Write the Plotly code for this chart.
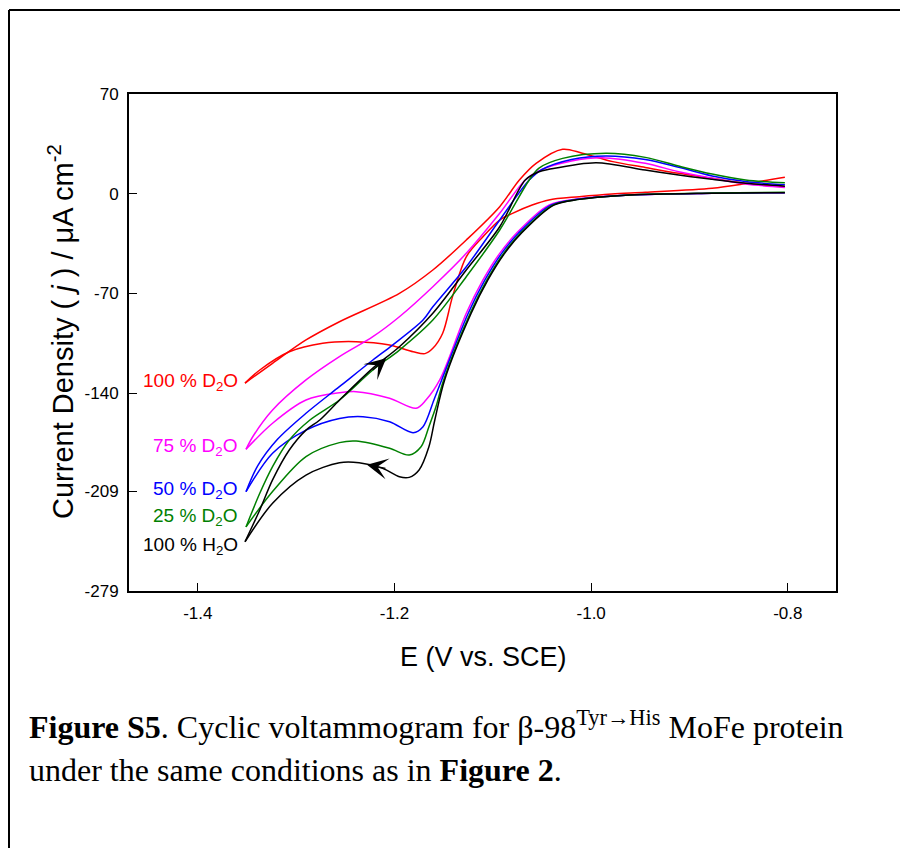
import plotly.graph_objects as go

# ---------------- data ----------------
# Potential E (V vs. SCE) and current density j (uA cm^-2)
# Each voltammogram: cathodic sweep (-0.80 -> -1.35 V) and anodic return sweep.

# 100 % D2O (red)
d100_cat_E = [-0.803, -0.843, -0.877, -0.945, -0.979, -1.012, -1.043, -1.060, -1.080, -1.093, -1.110, -1.127,
              -1.141, -1.151, -1.161, -1.169, -1.181, -1.205, -1.239, -1.273, -1.307, -1.337, -1.352]
d100_cat_j = [11.5, 7.0, 3.8, 1.0, -0.2, -2.1, -4.4, -8.0, -13.8, -18.5, -30.2, -44.3,
              -72.3, -98.0, -108.6, -112.3, -111.0, -106.3, -103.9, -105.0, -111.0, -123.8, -133.0]
d100_ano_E = [-1.352, -1.324, -1.290, -1.256, -1.195, -1.161, -1.127, -1.093, -1.073, -1.056, -1.029,
              -1.009, -0.978, -0.945, -0.911, -0.877, -0.843, -0.803]
d100_ano_j = [-133.0, -119.1, -102.7, -89.9, -70.0, -53.6, -32.5, -9.1, 9.6, 21.3, 31.2,
              28.4, 22.5, 18.4, 14.3, 10.8, 7.3, 4.9]

# 75 % D2O (magenta)
d75_cat_E = [-0.803, -0.877, -0.961, -1.012, -1.043, -1.076, -1.093, -1.110, -1.127, -1.154, -1.168,
             -1.178, -1.205, -1.239, -1.256, -1.290, -1.324, -1.351]
d75_cat_j = [0.7, 0.3, -0.9, -3.5, -8.0, -27.8, -41.9, -60.6, -84.0, -130.8, -144.9,
             -150.7, -143.7, -139.0, -139.8, -144.9, -161.2, -179.5]
d75_ano_E = [-1.351, -1.344, -1.324, -1.290, -1.256, -1.222, -1.195, -1.161, -1.127, -1.093, -1.067,
             -1.050, -1.020, -0.989, -0.945, -0.911, -0.877, -0.843, -0.803]
d75_ano_j = [-179.5, -170.5, -151.9, -130.8, -114.4, -100.4, -86.4, -65.3, -41.9, -13.8, 9.6,
             17.0, 23.0, 25.3, 21.3, 15.4, 10.8, 6.8, 4.4]

# 50 % D2O (blue)
d50_cat_E = [-0.803, -0.877, -0.961, -1.012, -1.041, -1.074, -1.091, -1.108, -1.125, -1.152, -1.160,
             -1.171, -1.181, -1.205, -1.232, -1.256, -1.290, -1.324, -1.351]
d50_cat_j = [0.7, 0.3, -0.9, -3.8, -8.0, -27.8, -41.9, -60.6, -84.0, -130.8, -145.0,
             -163.6, -167.8, -160.1, -156.6, -157.8, -166.0, -182.3, -209.3]
d50_ano_E = [-1.351, -1.339, -1.319, -1.290, -1.256, -1.222, -1.202, -1.171, -1.161, -1.127, -1.093,
             -1.063, -1.050, -1.020, -0.985, -0.945, -0.911, -0.877, -0.843, -0.803]
d50_ano_j = [-209.3, -191.0, -172.5, -154.2, -135.5, -116.8, -106.3, -88.7, -79.4, -51.3, -18.5,
             9.6, 17.0, 24.0, 26.5, 24.0, 18.5, 12.4, 8.5, 6.3]

# 25 % D2O (green)
d25_cat_E = [-0.803, -0.877, -0.961, -1.012, -1.039, -1.072, -1.089, -1.106, -1.123, -1.150, -1.158,
             -1.165, -1.173, -1.185, -1.205, -1.239, -1.256, -1.290, -1.324, -1.351]
d25_cat_j = [1.0, 0.5, -0.9, -4.0, -8.0, -27.8, -41.9, -60.6, -84.0, -130.8, -150.0,
             -163.6, -177.7, -183.5, -178.8, -173.7, -174.8, -184.6, -209.2, -234.0]
d25_ano_E = [-1.351, -1.337, -1.324, -1.307, -1.286, -1.256, -1.222, -1.195, -1.161, -1.127, -1.093,
             -1.063, -1.053, -1.029, -0.985, -0.945, -0.911, -0.877, -0.843, -0.803]
d25_ano_j = [-234.0, -210.4, -191.7, -173.0, -158.9, -144.9, -123.8, -109.8, -88.7, -58.3, -25.5,
             9.6, 18.0, 24.8, 28.4, 25.5, 19.4, 13.8, 9.6, 7.7]

# 100 % H2O (black)
h2o_cat_E = [-0.803, -0.877, -0.961, -1.012, -1.038, -1.071, -1.088, -1.105, -1.122, -1.149, -1.159,
             -1.165, -1.175, -1.185, -1.195, -1.212, -1.236, -1.256, -1.290, -1.324, -1.352]
h2o_cat_j = [0.7, 0.3, -0.9, -4.0, -8.0, -27.8, -41.9, -60.6, -84.0, -130.8, -158.9,
             -177.7, -194.0, -199.2, -198.8, -192.9, -188.9, -188.9, -197.6, -217.4, -244.4]
h2o_ano_E = [-1.352, -1.337, -1.324, -1.307, -1.290, -1.276, -1.256, -1.222, -1.195, -1.161, -1.127,
             -1.093, -1.067, -1.053, -1.043, -0.995, -0.945, -0.911, -0.877, -0.843, -0.803]
h2o_ano_j = [-244.4, -222.1, -201.0, -180.0, -166.0, -158.9, -145.0, -122.5, -107.5, -84.0, -53.6,
             -23.2, 9.6, 15.4, 17.1, 21.8, 16.6, 13.1, 10.1, 7.3, 5.3]

series_names = ["100 % D2O", "75 % D2O", "50 % D2O", "25 % D2O", "100 % H2O"]
series_labels = ["100 % D<sub>2</sub>O", "75 % D<sub>2</sub>O", "50 % D<sub>2</sub>O",
                 "25 % D<sub>2</sub>O", "100 % H<sub>2</sub>O"]
series_colors = ["#ff0000", "#ff00ff", "#0000ff", "#008000", "#000000"]
label_y = [-132.2, -177.9, -208.1, -227.0, -247.4]

x_tick_vals = [-1.4, -1.2, -1.0, -0.8]
x_tick_text = ["-1.4", "-1.2", "-1.0", "-0.8"]
y_tick_vals = [70, 0, -70, -140, -209, -279]
y_tick_text = ["70", "0", "-70", "-140", "-209", "-279"]

curves = [
    (d100_cat_E, d100_cat_j, d100_ano_E, d100_ano_j),
    (d75_cat_E, d75_cat_j, d75_ano_E, d75_ano_j),
    (d50_cat_E, d50_cat_j, d50_ano_E, d50_ano_j),
    (d25_cat_E, d25_cat_j, d25_ano_E, d25_ano_j),
    (h2o_cat_E, h2o_cat_j, h2o_ano_E, h2o_ano_j),
]

# ---------------- figure ----------------
fig = go.Figure()
for (cE, cj, aE, aj), name, col in zip(curves, series_names, series_colors):
    for E, j in ((cE, cj), (aE, aj)):
        fig.add_trace(go.Scatter(
            x=E, y=j, mode="lines", name=name, showlegend=False,
            line=dict(color=col, width=1.5, shape="spline", smoothing=0.9),
            hoverinfo="skip"))

FONT = "Arial, 'Liberation Sans', sans-serif"
SERIF = "'Times New Roman', 'Liberation Serif', serif"

# page (window) pixel -> paper coordinates (plot area spans x 129..836, y 94..591 in the window)
def px(xp):
    return (xp - 129) / 707

def py(yp):
    return 1 - (yp - 94) / 497

annotations = []
for txt, col, yv in zip(series_labels, series_colors, label_y):
    annotations.append(dict(x=-1.357, y=yv, xref="x", yref="y", text=txt, showarrow=False,
                            xanchor="right", yanchor="middle",
                            font=dict(family=FONT, size=19, color=col)))

# scan-direction arrows
annotations.append(dict(x=-1.2084, y=-115.6, xref="x", yref="y", ax=-15, ay=13,
                        showarrow=True, arrowhead=3, arrowsize=2.7, arrowwidth=1.3,
                        arrowcolor="black", text="", standoff=0))
annotations.append(dict(x=-1.228, y=-190.3, xref="x", yref="y", ax=20, ay=4,
                        showarrow=True, arrowhead=3, arrowsize=2.7, arrowwidth=1.3,
                        arrowcolor="black", text="", standoff=0))

# axis titles
annotations.append(dict(x=px(61), y=py(332), xref="paper", yref="paper",
                        text="Current Density ( <i>j</i> ) / \u03bcA cm<sup>-2</sup>",
                        textangle=-90, showarrow=False, xanchor="center", yanchor="middle",
                        font=dict(family=FONT, size=29, color="black")))
annotations.append(dict(x=px(483), y=py(657), xref="paper", yref="paper",
                        text="E (V vs. SCE)", showarrow=False, xanchor="center", yanchor="middle",
                        font=dict(family=FONT, size=27, color="black")))

# caption
annotations.append(dict(x=px(27), y=py(725), xref="paper", yref="paper",
                        text="<b>Figure S5</b>. Cyclic voltammogram for \u03b2-98<sup>Tyr\u2192His</sup> MoFe protein",
                        showarrow=False, xanchor="left", yanchor="middle",
                        font=dict(family=SERIF, size=32, color="black")))
annotations.append(dict(x=px(27), y=py(770), xref="paper", yref="paper",
                        text="under the same conditions as in <b>Figure 2</b>.",
                        showarrow=False, xanchor="left", yanchor="middle",
                        font=dict(family=SERIF, size=32, color="black")))

# outer frame (top and left edges of the page box)
shapes = [
    dict(type="line", xref="paper", yref="paper", x0=px(9), x1=px(920),
         y0=py(10), y1=py(10), line=dict(color="black", width=2)),
    dict(type="line", xref="paper", yref="paper", x0=px(9), x1=px(9),
         y0=py(10), y1=py(860), line=dict(color="black", width=2)),
]

axis_common = dict(showline=True, linecolor="black", linewidth=2, mirror=True,
                   ticks="inside", ticklen=8, tickwidth=1.2, tickcolor="black",
                   showgrid=False, zeroline=False,
                   tickfont=dict(family=FONT, size=17, color="black"))

# the page body has an 8 px margin, so the figure is 900x840 and offsets are reduced by 8
fig.update_layout(
    width=900, height=840,
    margin=dict(l=121, r=72, t=86, b=257),
    paper_bgcolor="white", plot_bgcolor="white",
    showlegend=False,
    xaxis=dict(range=[-1.47, -0.751], tickvals=x_tick_vals, ticktext=x_tick_text,
               ticklabelstandoff=6, **axis_common),
    yaxis=dict(range=[-279, 70], tickvals=y_tick_vals, ticktext=y_tick_text,
               ticklabelstandoff=5, **axis_common),
    annotations=annotations,
    shapes=shapes,
)

fig.write_html("out.html")
